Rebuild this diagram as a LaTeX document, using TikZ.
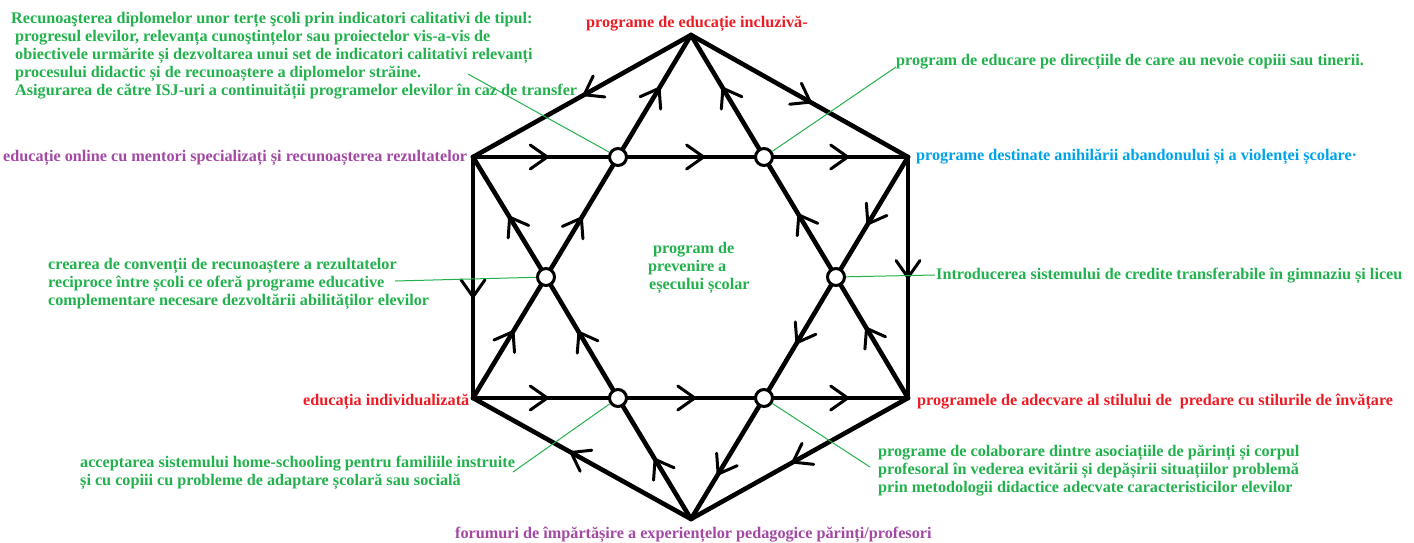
\documentclass[tikz,border=0pt]{standalone}
\usepackage{fontspec}
\setmainfont{Liberation Serif}
\usetikzlibrary{decorations.markings}
\definecolor{pgreen}{RGB}{34,177,76}
\definecolor{pred}{RGB}{237,28,36}
\definecolor{ppurple}{RGB}{163,73,164}
\definecolor{pblue}{RGB}{0,162,232}
\begin{document}
\begin{tikzpicture}[x=1pt,y=-1pt,
  lbl/.style={inner sep=0pt, font=\bfseries\fontsize{16.2pt}{18pt}\selectfont, align=left, anchor=base west},
  arr/.style={line width=4.6pt, line cap=round, postaction={decorate},
    decoration={markings, mark=at position #1 with {\draw[line width=3pt, line cap=round, line join=miter] (-17pt,12pt) -- (0pt,0pt) -- (-17pt,-12pt);}}},
  arr/.default=0.5,
  dot/.style={circle, draw, line width=3pt, fill=white, minimum size=17pt, inner sep=0pt},
  lead/.style={draw=pgreen, line width=1pt},
]
\useasboundingbox (0,0) rectangle (1414,542);
% vertices
\coordinate (T) at (691,35);
\coordinate (UL) at (473,157);
\coordinate (UR) at (908,157);
\coordinate (LL) at (473,398);
\coordinate (LR) at (908,398);
\coordinate (B) at (691,519);
% circles
\node[dot] (c1) at (618,157) {};
\node[dot] (c2) at (764,157) {};
\node[dot] (c3) at (546,277) {};
\node[dot] (c4) at (836,277) {};
\node[dot] (c5) at (618,398) {};
\node[dot] (c6) at (764,398) {};
% hexagon
\draw[arr=0.49] (T) -- (UL);
\draw[arr=0.58] (UL) -- (LL);
\draw[arr=0.55] (B) -- (LL);
\draw[arr=0.53] (LR) -- (B);
\draw[arr=0.5] (UR) -- (LR);
\draw[arr=0.55] (T) -- (UR);
% horizontals
\draw[arr=0.55] (UL) -- (c1);
\draw[arr=0.6] (c1) -- (c2);
\draw[arr=0.55] (c2) -- (UR);
\draw[arr=0.55] (LL) -- (c5);
\draw[arr=0.53] (c5) -- (c6);
\draw[arr=0.55] (c6) -- (LR);
% triangle lines
\draw[arr=0.59] (LL) -- (c3);
\draw[arr=0.49] (c3) -- (c1);
\draw[arr=0.53] (c1) -- (T);
\draw[arr=0.62] (LR) -- (c4);
\draw[arr=0.52] (c4) -- (c2);
\draw[arr=0.53] (c2) -- (T);
\draw[arr=0.53] (B) -- (c5);
\draw[arr=0.55] (c5) -- (c3);
\draw[arr=0.46] (c3) -- (UL);
\draw[arr=0.6] (UR) -- (c4);
\draw[arr=0.55] (c4) -- (c6);
\draw[arr=0.6] (c6) -- (B);
% leader lines
\coordinate (tlend) at (468,74);
\coordinate (trend) at (896,67);
\coordinate (lend) at (395,281);
\coordinate (rend) at (935,275);
\coordinate (blend) at (513,472);
\coordinate (brend) at (870,467);
\draw[lead] (tlend) -- (c1);
\draw[lead] (c2) -- (trend);
\draw[lead] (lend) -- (c3);
\draw[lead] (c4) -- (rend);
\draw[lead] (blend) -- (c5);
\draw[lead] (c6) -- (brend);
% labels (multi-line nodes: base = last line)
\node[lbl, text=pgreen] (tl) at (11,95) {Recunoaşterea diplomelor unor terțe şcoli prin indicatori calitativi de tipul:\\
\hspace*{4pt}progresul elevilor, relevanța cunoştințelor sau proiectelor vis-a-vis de\\
\hspace*{4pt}obiectivele urmărite și dezvoltarea unui set de indicatori calitativi relevanți\\
\hspace*{4pt}procesului didactic și de recunoaștere a diplomelor străine.\\
\hspace*{4pt}Asigurarea de către ISJ-uri a continuității programelor elevilor în caz de transfer};
\node[lbl, text=pred] (top) at (586,27) {programe de educație incluzivă-};
\node[lbl, text=pgreen] (tr) at (896,65) {program de educare pe direcțiile de care au nevoie copiii sau tinerii.};
\node[lbl, text=pblue] (blue) at (916,160) {programe destinate anihilării abandonului și a violenței școlare·};
\node[lbl, text=ppurple] (online) at (3,161) {educație online cu mentori specializați și recunoașterea rezultatelor};
\node[lbl, text=pgreen] (conv) at (48,305) {crearea de convenții de recunoaștere a rezultatelor\\
reciproce între școli ce oferă programe educative\\
complementare necesare dezvoltării abilităților elevilor};
\node[lbl, text=pgreen] (cred) at (936,279) {Introducerea sistemului de credite transferabile în gimnaziu și liceu};
\node[lbl, text=pred] (adecv) at (917,405) {programele de adecvare al stilului de\hspace{4pt} predare cu stilurile de învățare};
\node[lbl, text=pred] (indiv) at (303,405) {educația individualizată};
\node[lbl, text=pgreen] (home) at (80,485) {acceptarea sistemului home-schooling pentru familiile instruite\\
și cu copiii cu probleme de adaptare școlară sau socială};
\node[lbl, text=pgreen] (colab) at (878,492) {programe de colaborare dintre asociațiile de părinți și corpul\\
profesoral în vederea evitării și depășirii situațiilor problemă\\
prin metodologii didactice adecvate caracteristicilor elevilor};
\node[lbl, text=ppurple] (forum) at (455,538) {forumuri de împărtășire a experiențelor pedagogice părinți/profesori};
\node[lbl, text=pgreen] (center) at (648,289) {\hspace*{5pt}program de\\
prevenire a\\
\hspace*{1pt}eșecului școlar};
\end{tikzpicture}
\end{document}
